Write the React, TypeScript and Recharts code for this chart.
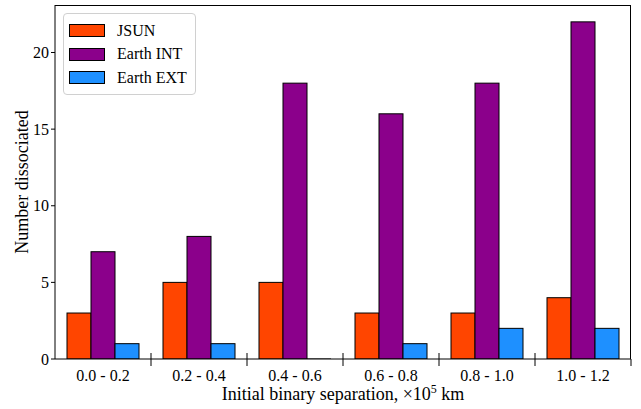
import React from "react";
import {
  Bar,
  BarChart,
  Legend,
  XAxis,
  YAxis,
} from "recharts";

// values
const categories = ["0.0 - 0.2", "0.2 - 0.4", "0.4 - 0.6", "0.6 - 0.8", "0.8 - 1.0", "1.0 - 1.2"];
const seriesNames = ["JSUN", "Earth INT", "Earth EXT"];
const jsun = [3, 5, 5, 3, 3, 4];
const earthInt = [7, 8, 18, 16, 18, 22];
const earthExt = [1, 1, 0, 1, 2, 2];
const yTicks = [0, 5, 10, 15, 20];

const data = categories.map((c, i) => ({
  range: c,
  jsun: jsun[i],
  earthInt: earthInt[i],
  earthExt: earthExt[i],
}));

const FONT = '"Liberation Serif", "DejaVu Serif", serif';
const BAND = 96;

// matplotlib-like bar: draws a flat edge when value is 0
const EdgeBar = (props: any) => {
  const { x, y, width, height, fill } = props;
  if (!height) {
    return <line x1={x} x2={x + width} y1={y} y2={y} stroke="#000" strokeWidth={1} />;
  }
  return <rect x={x} y={y} width={width} height={height} fill={fill} stroke="#000" strokeWidth={1} />;
};

// label at the centre, "inout" tick at the category boundaries
const XTick = (props: any) => {
  const { x, y, payload, index } = props;
  const left = x - BAND / 2;
  return (
    <g>
      {index > 0 && <line x1={left} x2={left} y1={y - 6} y2={y + 7} stroke="#000" strokeWidth={1} />}
      {index === categories.length - 1 && (
        <line x1={x + BAND / 2} x2={x + BAND / 2} y1={y} y2={y + 7} stroke="#000" strokeWidth={1} />
      )}
      <text x={x} y={y + 22} textAnchor="middle" fontFamily={FONT} fontSize={16} fill="#000">
        {payload.value}
      </text>
    </g>
  );
};

const XLabel = (props: any) => {
  const { viewBox } = props;
  const cx = viewBox.x + viewBox.width / 2;
  return (
    <text x={cx} y={400} textAnchor="middle" fontFamily={FONT} fontSize={18} fill="#000">
      Initial binary separation, ×10
      <tspan dy={-7} fontSize={12}>5</tspan>
      <tspan dy={7}> km</tspan>
    </text>
  );
};

const YLabel = (props: any) => {
  const { viewBox } = props;
  const cy = viewBox.y + viewBox.height / 2;
  return (
    <text
      x={22}
      y={cy}
      transform={`rotate(-90, 22, ${cy})`}
      textAnchor="middle"
      dominantBaseline="central"
      fontFamily={FONT}
      fontSize={18}
      fill="#000"
    >
      Number dissociated
    </text>
  );
};

const LegendBox = (props: any) => {
  const { payload } = props;
  const items = seriesNames
    .map((n) => (payload || []).find((p: any) => p.value === n))
    .filter(Boolean);
  return (
    <div
      style={{
        border: "1px solid #d0d0d0",
        borderRadius: 4,
        background: "rgba(255,255,255,0.8)",
        padding: "5px 8px 4px 5px",
        fontFamily: FONT,
        fontSize: 16,
      }}
    >
      {items.map((entry: any) => (
        <div key={entry.value} style={{ display: "flex", alignItems: "center", height: 23.5 }}>
          <div
            style={{
              width: 34,
              height: 11,
              background: entry.color,
              border: "1px solid #000",
              marginRight: 12,
            }}
          />
          <span style={{ color: "#000" }}>{entry.value}</span>
        </div>
      ))}
    </div>
  );
};

export default function App() {
  return (
    <div style={{ position: "absolute", left: 0, top: 0, width: 641, height: 409, background: "#fff" }}>
      <BarChart
        width={641}
        height={409}
        data={data}
        margin={{ top: 5, right: 10, bottom: 0, left: 15 }}
        barSize={24}
        barGap={0}
        barCategoryGap={12}
      >
        <XAxis
          dataKey="range"
          interval={0}
          height={50}
          tickSize={0}
          tickMargin={0}
          tickLine={false}
          stroke="#000"
          tick={<XTick />}
          label={<XLabel />}
        />
        <YAxis
          domain={[0, 23.1]}
          ticks={yTicks}
          allowDataOverflow
          width={40}
          tickSize={4}
          tickMargin={2}
          stroke="#000"
          tick={{ fontFamily: FONT, fontSize: 16, fill: "#000" }}
          label={<YLabel />}
        />
        <Legend
          content={<LegendBox />}
          layout="vertical"
          verticalAlign="middle"
          align="center"
          wrapperStyle={{ position: "absolute", left: 63, top: 13, width: "auto", height: "auto" }}
        />
        <Bar dataKey="jsun" name="JSUN" fill="#ff4500" shape={<EdgeBar />} isAnimationActive={false} />
        <Bar dataKey="earthInt" name="Earth INT" fill="#8b008b" shape={<EdgeBar />} isAnimationActive={false} />
        <Bar dataKey="earthExt" name="Earth EXT" fill="#1e90ff" shape={<EdgeBar />} isAnimationActive={false} />
      </BarChart>
      {/* axes frame (top / right spines) */}
      <div
        style={{
          position: "absolute",
          left: 55,
          top: 5,
          width: 576,
          height: 354,
          borderTop: "1px solid #000",
          borderRight: "1px solid #000",
          boxSizing: "border-box",
          pointerEvents: "none",
        }}
      />
    </div>
  );
}
